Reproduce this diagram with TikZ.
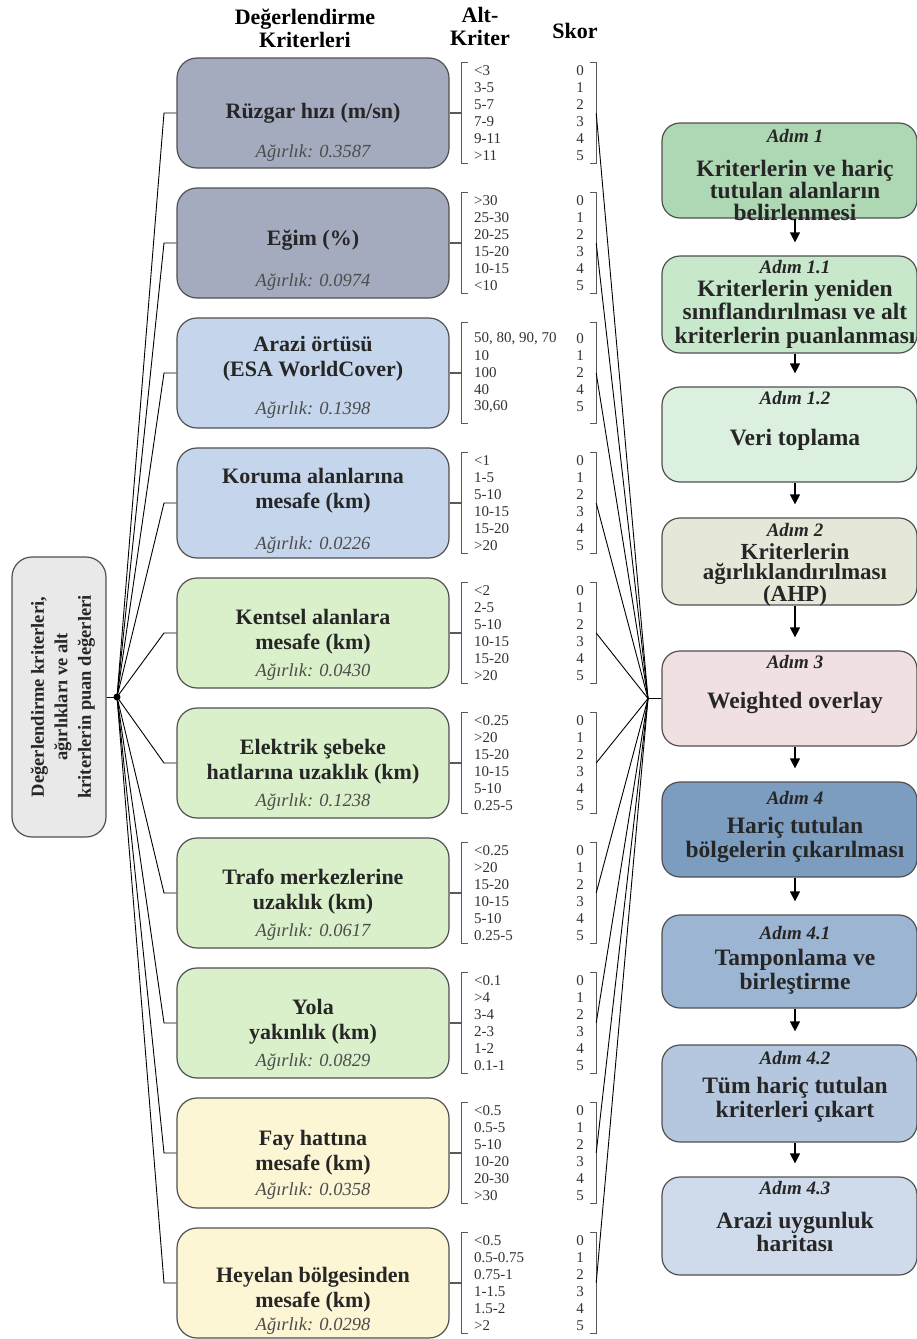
\documentclass[tikz,border=0pt]{standalone}
\usepackage{fontspec}
\setmainfont{Liberation Serif}
\usetikzlibrary{arrows.meta,calc}
\definecolor{critA}{RGB}{164,171,190}
\definecolor{critB}{RGB}{197,214,236}
\definecolor{critC}{RGB}{218,240,203}
\definecolor{critD}{RGB}{253,246,213}
\definecolor{leftc}{RGB}{233,233,233}
\definecolor{st1}{RGB}{174,215,180}
\definecolor{st11}{RGB}{200,232,203}
\definecolor{st12}{RGB}{220,240,224}
\definecolor{st2}{RGB}{229,232,216}
\definecolor{st3}{RGB}{240,224,226}
\definecolor{st4}{RGB}{124,157,191}
\definecolor{st41}{RGB}{155,181,210}
\definecolor{st42}{RGB}{181,199,223}
\definecolor{st43}{RGB}{207,219,235}
\definecolor{bordc}{RGB}{80,80,80}
\tikzset{
 critbox/.style={draw=bordc, line width=1.2pt, rounded corners=20pt, minimum width=272pt, minimum height=110pt, inner sep=0pt},
 crittitle/.style={font=\fontsize{22}{25}\selectfont\bfseries, align=center, text=black!85, inner sep=0pt},
 critweight/.style={font=\fontsize{18.5}{20}\selectfont\itshape, text=black!70, inner sep=0pt},
 brk/.style={minimum width=134pt, minimum height=100pt, inner sep=0pt},
 brkline/.style={draw=black!65, line width=1.2pt},
 subtxt/.style={font=\fontsize{15}{17}\selectfont, text=black!80, inner sep=0pt},
 stepbox/.style={draw=bordc, line width=1.2pt, rounded corners=18pt, minimum width=255pt, inner sep=0pt},
 adm/.style={font=\fontsize{19}{21}\selectfont\bfseries\itshape, text=black!85, inner sep=0pt},
 steptitle/.style={font=\fontsize{23.5}{23.5}\selectfont\bfseries, align=center, text=black!85, inner sep=0pt},
 hdr/.style={font=\fontsize{22}{23}\selectfont\bfseries, align=center, inner sep=0pt},
 conn/.style={line width=0.9pt, black},
 arr/.style={line width=1.2pt, -{Triangle[width=10pt,length=10pt]}, shorten >=13pt},
}
\newcommand\critbox[7]{% #1 id, #2 T, #3 fill, #4 title offset, #5 title, #6 weight, #7 weight offset
 \node[critbox, fill=#3] (c#1) at (313,#2+55) {};
 \node[crittitle] (c#1t) at (313,#2+#4) {#5};
 \node[critweight] (c#1w) at (313,#2+#7) {Ağırlık: #6};
 \node[brk] (b#1) at (529,#2+55) {};
 \draw[brkline] ([xshift=6pt]b#1.north west) -- (b#1.north west) -- (b#1.south west) -- ([xshift=6pt]b#1.south west);
 \draw[brkline] ([xshift=-6pt]b#1.north east) -- (b#1.north east) -- (b#1.south east) -- ([xshift=-6pt]b#1.south east);
 \draw[brkline] (c#1.east) -- (b#1.west);
 \draw[conn] (hub.center) -- (elb |- c#1.west) -- (c#1.west);
 \draw[conn] (b#1.east) -- (rhub);
}
\newcommand\subrows[5]{% #1 id, #2 T, #3 start, #4 items, #5 scores
 \foreach \itm [count=\k from 0] in {#4} \node[subtxt, anchor=west] (sa-#1-\k) at (474,#2+#3+17*\k) {\itm};
 \foreach \scr [count=\k from 0] in {#5} \node[subtxt] (sb-#1-\k) at (580,#2+#3+17*\k) {\scr};
}
\newcommand\stepnode[6]{% #1 id, #2 top, #3 bottom, #4 fill, #5 adim y, #6 label
 \node[stepbox, fill=#4, minimum height=#3-#2] (s#1) at (789.5,{(#2+#3)/2}) {};
 \node[adm] (s#1a) at (795,#5) {#6};
}
\begin{document}
\begin{tikzpicture}[x=1pt,y=-1pt]
\useasboundingbox (0,0) rectangle (917,1339);
% headers
\node[hdr] (h1) at (305,28) {Değerlendirme\\Kriterleri};
\node[hdr] (h2) at (480,26) {Alt-\\Kriter};
\node[hdr] (h3) at (575,31) {Skor};
% left box and hubs
\node[draw=bordc, line width=1.2pt, fill=leftc, rounded corners=20pt, minimum width=94pt, minimum height=280pt, inner sep=0pt] (L) at (59,697) {};
\node[rotate=90, font=\fontsize{18.5}{23.5}\selectfont\bfseries, align=center, text=black!85, inner sep=0pt] (Lt) at (63,697) {Değerlendirme kriterleri,\\ağırlıkları ve alt\\kriterlerin puan değerleri};
\node[circle, fill=black, inner sep=0pt, minimum size=7pt] (hub) at (117,697) {};
\draw[conn] (L.east) -- (hub.center);
\coordinate (elb) at (164,0);
\coordinate (rhub) at (648,698.5);
% criteria
\critbox{1}{58}{critA}{55}{Rüzgar hızı (m/sn)}{0.3587}{95}
\subrows{1}{58}{13}{<3,3-5,5-7,7-9,9-11,>11}{0,1,2,3,4,5}
\critbox{2}{188}{critA}{52}{Eğim (\%)}{0.0974}{94}
\subrows{2}{188}{13}{>30,25-30,20-25,15-20,10-15,<10}{0,1,2,3,4,5}
\critbox{3}{318}{critB}{41}{Arazi örtüsü\\(ESA WorldCover)}{0.1398}{92}
\subrows{3}{318}{21}{{50, 80, 90, 70},10,100,40,{30,60}}{0,1,2,4,5}
\critbox{4}{448}{critB}{43}{Koruma alanlarına\\mesafe (km)}{0.0226}{97}
\subrows{4}{448}{13}{<1,1-5,5-10,10-15,15-20,>20}{0,1,2,3,4,5}
\critbox{5}{578}{critC}{54}{Kentsel alanlara\\mesafe (km)}{0.0430}{94}
\subrows{5}{578}{13}{<2,2-5,5-10,10-15,15-20,>20}{0,1,2,3,4,5}
\critbox{6}{708}{critC}{54}{Elektrik şebeke\\hatlarına uzaklık (km)}{0.1238}{94}
\subrows{6}{708}{13}{<0.25,>20,15-20,10-15,5-10,0.25-5}{0,1,2,3,4,5}
\critbox{7}{838}{critC}{54}{Trafo merkezlerine\\uzaklık (km)}{0.0617}{94}
\subrows{7}{838}{13}{<0.25,>20,15-20,10-15,5-10,0.25-5}{0,1,2,3,4,5}
\critbox{8}{968}{critC}{54}{Yola\\yakınlık (km)}{0.0829}{94}
\subrows{8}{968}{13}{<0.1,>4,3-4,2-3,1-2,0.1-1}{0,1,2,3,4,5}
\critbox{9}{1098}{critD}{55}{Fay hattına\\mesafe (km)}{0.0358}{93}
\subrows{9}{1098}{13}{<0.5,0.5-5,5-10,10-20,20-30,>30}{0,1,2,3,4,5}
\critbox{10}{1228}{critD}{62}{Heyelan bölgesinden\\mesafe (km)}{0.0298}{98}
\subrows{10}{1228}{13}{<0.5,0.5-0.75,0.75-1,1-1.5,1.5-2,>2}{0,1,2,3,4,5}
% steps
\stepnode{1}{123}{218}{st1}{136}{Adım 1}
\node[steptitle, font=\fontsize{23.5}{22}\selectfont\bfseries] (s1t) at (795,190) {Kriterlerin ve hariç\\tutulan alanların\\belirlenmesi};
\stepnode{11}{256}{353}{st11}{267}{Adım 1.1}
\node[steptitle] (s11t) at (795,314) {Kriterlerin yeniden\\sınıflandırılması ve alt\\kriterlerin puanlanması};
\stepnode{12}{387}{482}{st12}{398}{Adım 1.2}
\node[steptitle] (s12t) at (795,440) {Veri toplama};
\stepnode{2}{518}{605}{st2}{530}{Adım 2}
\node[steptitle, font=\fontsize{23}{20.5}\selectfont\bfseries] (s2t) at (795,575) {Kriterlerin\\ağırlıklandırılması\\(AHP)};
\stepnode{3}{651}{746}{st3}{662}{Adım 3}
\node[steptitle] (s3t) at (795,703) {Weighted overlay};
\stepnode{4}{782}{877}{st4}{798}{Adım 4}
\node[steptitle] (s4t) at (795,840) {Hariç tutulan\\bölgelerin çıkarılması};
\stepnode{41}{915}{1008}{st41}{933}{Adım 4.1}
\node[steptitle] (s41t) at (795,972) {Tamponlama ve\\birleştirme};
\stepnode{42}{1045}{1142}{st42}{1058}{Adım 4.2}
\node[steptitle] (s42t) at (795,1100) {Tüm hariç tutulan\\kriterleri çıkart};
\stepnode{43}{1177}{1275}{st43}{1188}{Adım 4.3}
\node[steptitle] (s43t) at (795,1232) {Arazi uygunluk\\haritası};
\draw[conn] (rhub) -- (rhub -| s3.west);
\foreach \a/\b in {1/11,11/12,12/2,2/3,3/4,4/41,41/42,42/43}
 \draw[arr] ([xshift=5.5pt]s\a.south) -- ([xshift=5.5pt]s\b.north);
\end{tikzpicture}
\end{document}
